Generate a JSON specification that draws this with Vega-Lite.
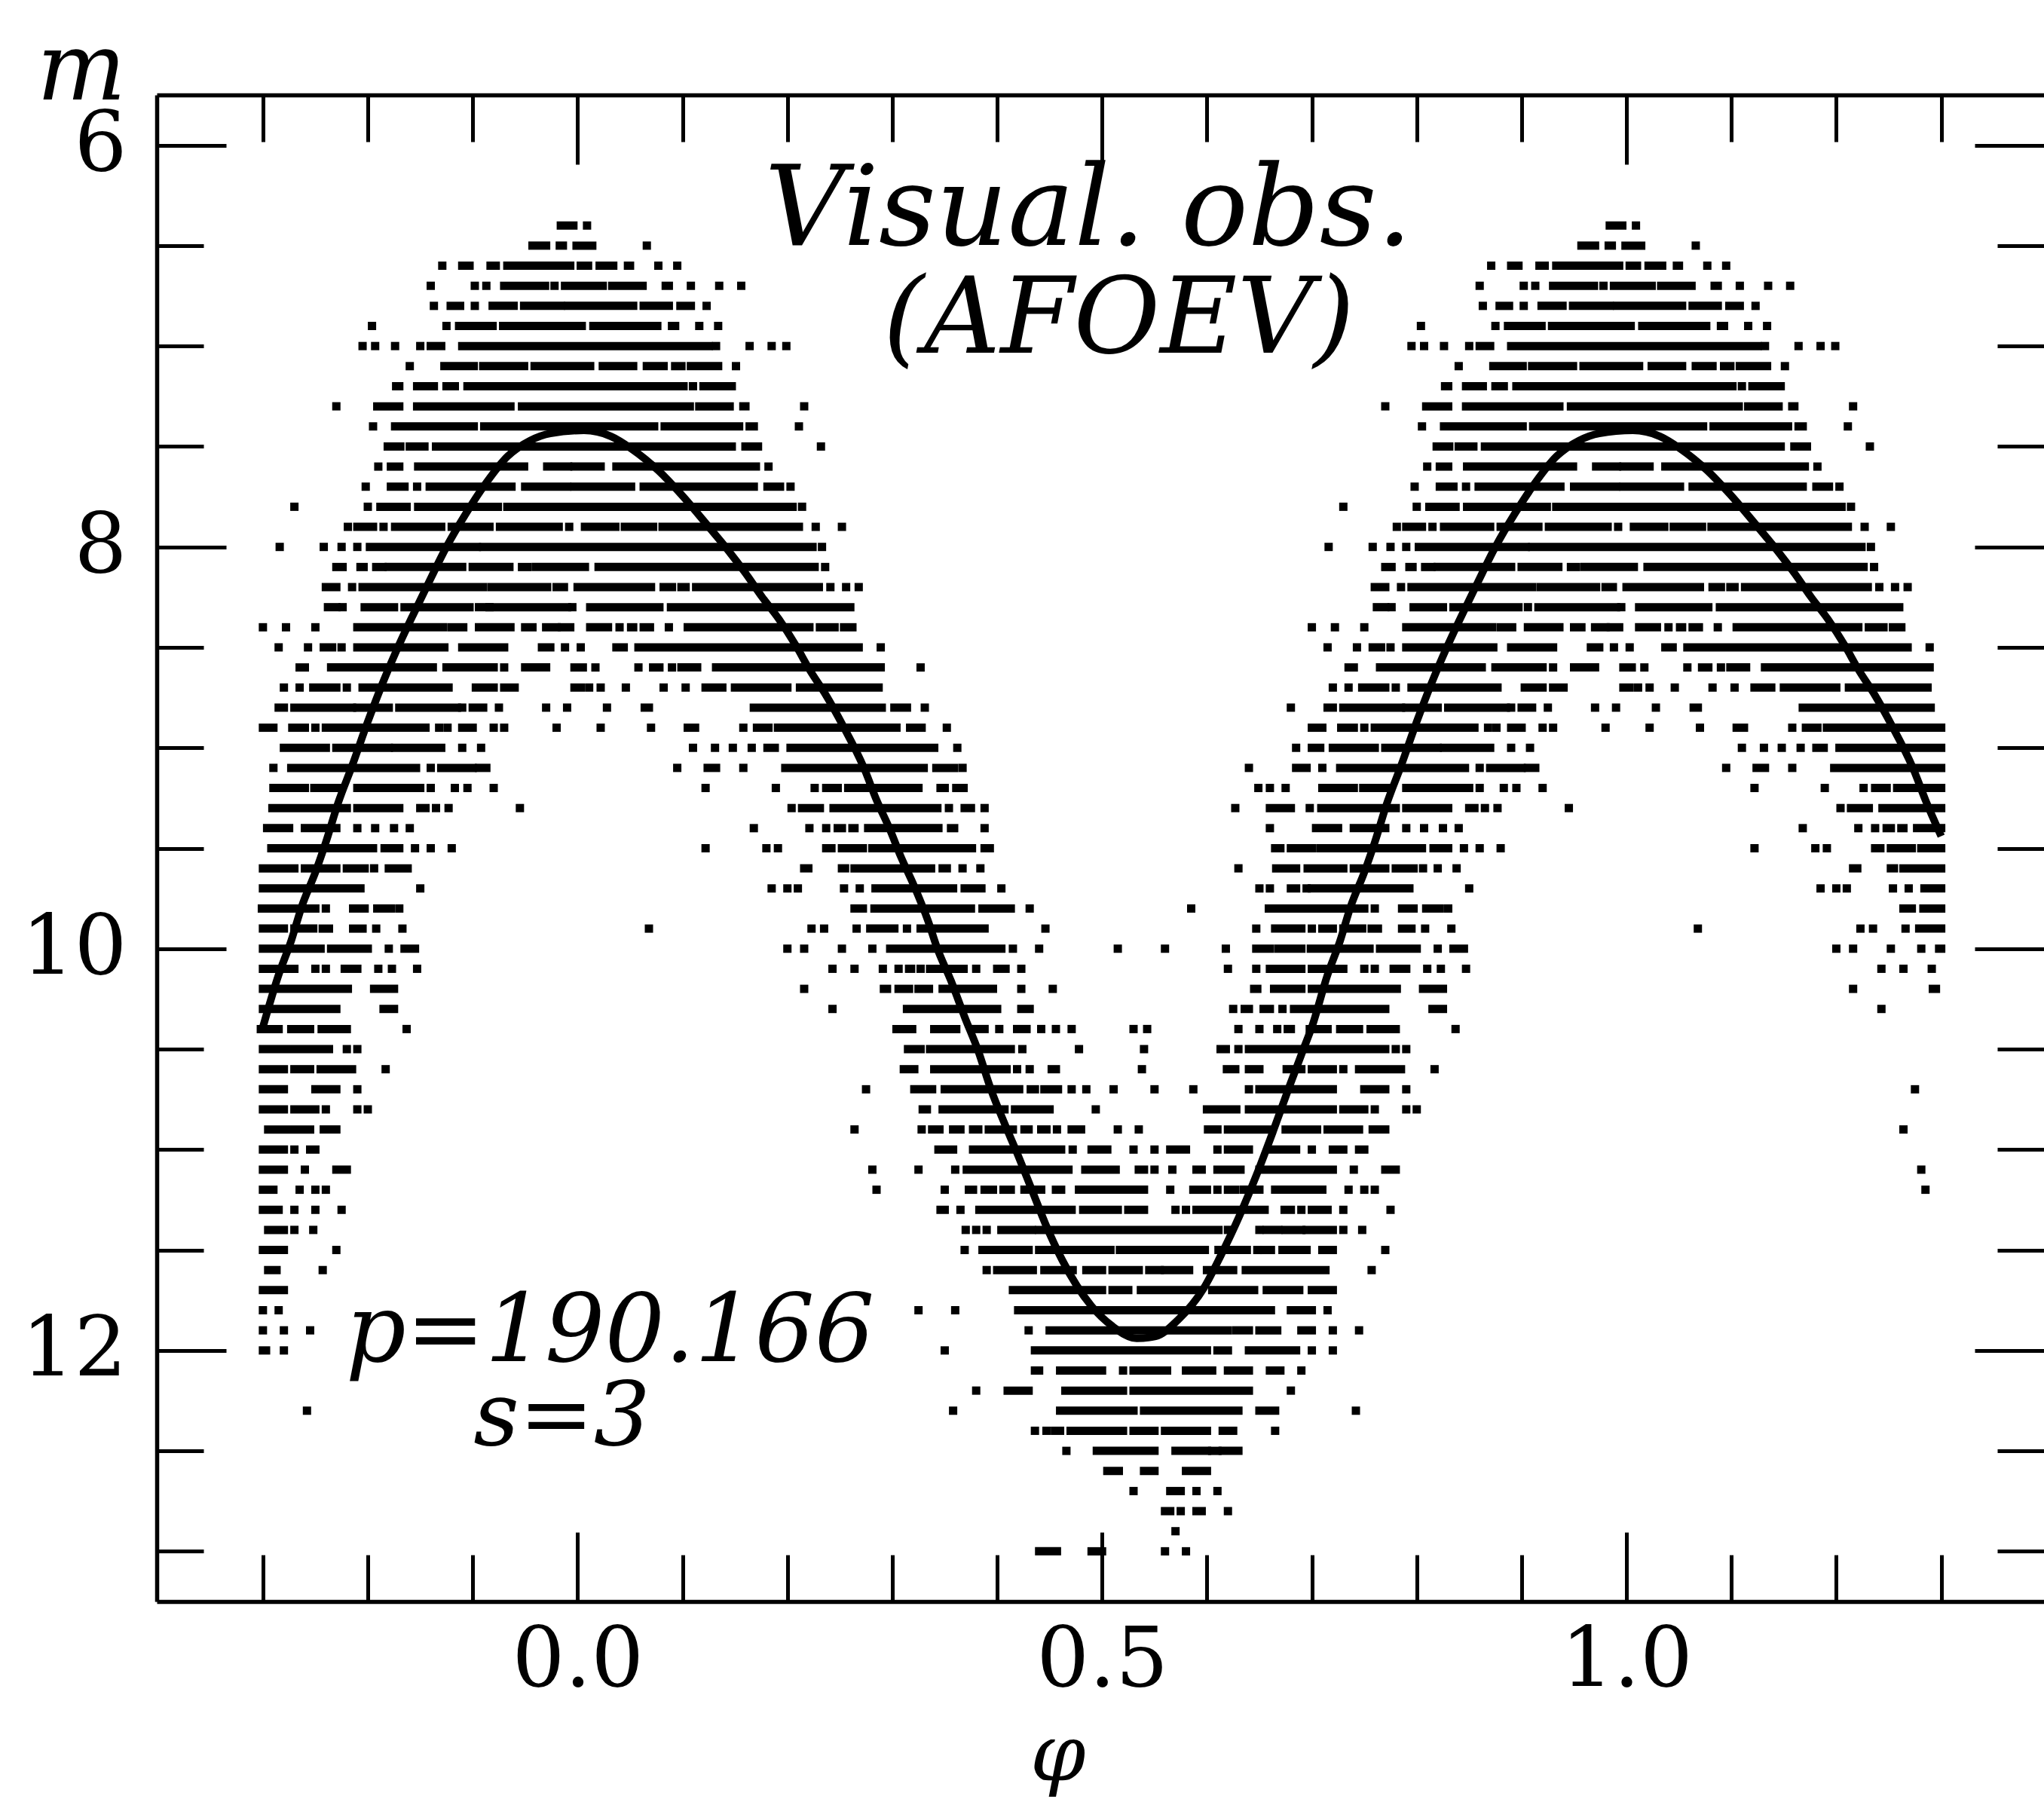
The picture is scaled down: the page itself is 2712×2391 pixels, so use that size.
{"$schema":"https://vega.github.io/schema/vega-lite/v6.json","width":2504,"height":1999,"autosize":{"type":"none"},"padding":{"left":208,"top":126,"right":0,"bottom":266},"background":"white","config":{"view":{"stroke":null},"axis":{"grid":false,"title":null,"domainColor":"black","tickColor":"black","domainWidth":5.5,"tickWidth":5,"labelColor":"black","labelFont":"DejaVu Serif","labelFontSize":110}},
"layer":[
{"data":{"values":[
{"m":6.4,"a":-0.016,"b":-0.004},{"m":6.4,"a":0.009,"b":0.009},{"m":6.4,"a":0.984,"b":0.996},{"m":6.4,"a":1.009,"b":1.009},
{"m":6.5,"a":-0.043,"b":-0.03},{"m":6.5,"a":-0.017,"b":-0.014},{"m":6.5,"a":-0.001,"b":0.014},{"m":6.5,"a":0.066,"b":0.066},{"m":6.5,"a":0.957,"b":0.97},{"m":6.5,"a":0.983,"b":0.986},{"m":6.5,"a":0.999,"b":1.014},{"m":6.5,"a":1.066,"b":1.066},
{"m":6.6,"a":-0.129,"b":-0.129},{"m":6.6,"a":-0.11,"b":-0.103},{"m":6.6,"a":-0.083,"b":-0.078},{"m":6.6,"a":-0.067,"b":-0.007},{"m":6.6,"a":0.003,"b":0.01},{"m":6.6,"a":0.021,"b":0.034},{"m":6.6,"a":0.048,"b":0.05},{"m":6.6,"a":0.077,"b":0.077},{"m":6.6,"a":0.095,"b":0.095},{"m":6.6,"a":0.871,"b":0.871},{"m":6.6,"a":0.89,"b":0.897},{"m":6.6,"a":0.917,"b":0.922},{"m":6.6,"a":0.933,"b":0.993},{"m":6.6,"a":1.003,"b":1.01},{"m":6.6,"a":1.021,"b":1.034},{"m":6.6,"a":1.048,"b":1.05},{"m":6.6,"a":1.077,"b":1.077},{"m":6.6,"a":1.095,"b":1.095},
{"m":6.7,"a":-0.14,"b":-0.14},{"m":6.7,"a":-0.098,"b":-0.098},{"m":6.7,"a":-0.087,"b":-0.087},{"m":6.7,"a":-0.07,"b":-0.031},{"m":6.7,"a":-0.022,"b":-0.022},{"m":6.7,"a":-0.012,"b":0.024},{"m":6.7,"a":0.033,"b":0.062},{"m":6.7,"a":0.084,"b":0.087},{"m":6.7,"a":0.108,"b":0.108},{"m":6.7,"a":0.135,"b":0.135},{"m":6.7,"a":0.156,"b":0.156},{"m":6.7,"a":0.86,"b":0.86},{"m":6.7,"a":0.902,"b":0.902},{"m":6.7,"a":0.913,"b":0.913},{"m":6.7,"a":0.93,"b":0.969},{"m":6.7,"a":0.978,"b":0.978},{"m":6.7,"a":0.988,"b":1.024},{"m":6.7,"a":1.033,"b":1.062},{"m":6.7,"a":1.084,"b":1.087},{"m":6.7,"a":1.108,"b":1.108},{"m":6.7,"a":1.135,"b":1.135},{"m":6.7,"a":1.156,"b":1.156},
{"m":6.8,"a":-0.137,"b":-0.137},{"m":6.8,"a":-0.121,"b":-0.112},{"m":6.8,"a":-0.098,"b":-0.098},{"m":6.8,"a":-0.081,"b":-0.061},{"m":6.8,"a":-0.051,"b":-0.016},{"m":6.8,"a":-0.009,"b":0.053},{"m":6.8,"a":0.063,"b":0.087},{"m":6.8,"a":0.098,"b":0.108},{"m":6.8,"a":0.123,"b":0.123},{"m":6.8,"a":0.863,"b":0.863},{"m":6.8,"a":0.879,"b":0.888},{"m":6.8,"a":0.902,"b":0.902},{"m":6.8,"a":0.919,"b":0.939},{"m":6.8,"a":0.949,"b":0.984},{"m":6.8,"a":0.991,"b":1.053},{"m":6.8,"a":1.063,"b":1.087},{"m":6.8,"a":1.098,"b":1.108},{"m":6.8,"a":1.123,"b":1.123},
{"m":6.9,"a":-0.196,"b":-0.196},{"m":6.9,"a":-0.125,"b":-0.125},{"m":6.9,"a":-0.113,"b":-0.081},{"m":6.9,"a":-0.071,"b":0.004},{"m":6.9,"a":0.015,"b":0.076},{"m":6.9,"a":0.09,"b":0.093},{"m":6.9,"a":0.116,"b":0.116},{"m":6.9,"a":0.134,"b":0.134},{"m":6.9,"a":0.804,"b":0.804},{"m":6.9,"a":0.875,"b":0.875},{"m":6.9,"a":0.887,"b":0.919},{"m":6.9,"a":0.929,"b":1.004},{"m":6.9,"a":1.015,"b":1.076},{"m":6.9,"a":1.09,"b":1.093},{"m":6.9,"a":1.116,"b":1.116},{"m":6.9,"a":1.134,"b":1.134},
{"m":7.0,"a":-0.205,"b":-0.205},{"m":7.0,"a":-0.193,"b":-0.193},{"m":7.0,"a":-0.174,"b":-0.174},{"m":7.0,"a":-0.15,"b":-0.15},{"m":7.0,"a":-0.14,"b":-0.13},{"m":7.0,"a":-0.11,"b":0.125},{"m":7.0,"a":0.132,"b":0.132},{"m":7.0,"a":0.164,"b":0.164},{"m":7.0,"a":0.185,"b":0.185},{"m":7.0,"a":0.199,"b":0.199},{"m":7.0,"a":0.795,"b":0.795},{"m":7.0,"a":0.807,"b":0.807},{"m":7.0,"a":0.826,"b":0.826},{"m":7.0,"a":0.85,"b":0.85},{"m":7.0,"a":0.86,"b":0.87},{"m":7.0,"a":0.89,"b":1.125},{"m":7.0,"a":1.132,"b":1.132},{"m":7.0,"a":1.164,"b":1.164},{"m":7.0,"a":1.185,"b":1.185},{"m":7.0,"a":1.199,"b":1.199},
{"m":7.1,"a":-0.16,"b":-0.16},{"m":7.1,"a":-0.127,"b":-0.099},{"m":7.1,"a":-0.09,"b":-0.051},{"m":7.1,"a":-0.041,"b":0.012},{"m":7.1,"a":0.024,"b":0.053},{"m":7.1,"a":0.066,"b":0.082},{"m":7.1,"a":0.093,"b":0.099},{"m":7.1,"a":0.108,"b":0.134},{"m":7.1,"a":0.151,"b":0.151},{"m":7.1,"a":0.84,"b":0.84},{"m":7.1,"a":0.873,"b":0.901},{"m":7.1,"a":0.91,"b":0.949},{"m":7.1,"a":0.959,"b":1.012},{"m":7.1,"a":1.024,"b":1.053},{"m":7.1,"a":1.066,"b":1.082},{"m":7.1,"a":1.093,"b":1.099},{"m":7.1,"a":1.108,"b":1.134},{"m":7.1,"a":1.151,"b":1.151},
{"m":7.2,"a":-0.173,"b":-0.17},{"m":7.2,"a":-0.153,"b":-0.137},{"m":7.2,"a":-0.125,"b":-0.117},{"m":7.2,"a":-0.105,"b":0.101},{"m":7.2,"a":0.11,"b":0.11},{"m":7.2,"a":0.12,"b":0.147},{"m":7.2,"a":0.827,"b":0.83},{"m":7.2,"a":0.847,"b":0.863},{"m":7.2,"a":0.875,"b":0.883},{"m":7.2,"a":0.895,"b":1.101},{"m":7.2,"a":1.11,"b":1.11},{"m":7.2,"a":1.12,"b":1.147},
{"m":7.3,"a":-0.23,"b":-0.23},{"m":7.3,"a":-0.191,"b":-0.17},{"m":7.3,"a":-0.153,"b":-0.064},{"m":7.3,"a":-0.053,"b":0.107},{"m":7.3,"a":0.116,"b":0.145},{"m":7.3,"a":0.158,"b":0.16},{"m":7.3,"a":0.216,"b":0.216},{"m":7.3,"a":0.77,"b":0.77},{"m":7.3,"a":0.809,"b":0.83},{"m":7.3,"a":0.847,"b":0.936},{"m":7.3,"a":0.947,"b":1.107},{"m":7.3,"a":1.116,"b":1.145},{"m":7.3,"a":1.158,"b":1.16},{"m":7.3,"a":1.216,"b":1.216},
{"m":7.4,"a":-0.195,"b":-0.195},{"m":7.4,"a":-0.174,"b":-0.099},{"m":7.4,"a":-0.089,"b":0.073},{"m":7.4,"a":0.083,"b":0.154},{"m":7.4,"a":0.164,"b":0.168},{"m":7.4,"a":0.211,"b":0.211},{"m":7.4,"a":0.805,"b":0.805},{"m":7.4,"a":0.826,"b":0.901},{"m":7.4,"a":0.911,"b":1.073},{"m":7.4,"a":1.083,"b":1.154},{"m":7.4,"a":1.164,"b":1.168},{"m":7.4,"a":1.211,"b":1.211},
{"m":7.5,"a":-0.181,"b":-0.169},{"m":7.5,"a":-0.16,"b":-0.146},{"m":7.5,"a":-0.135,"b":0.147},{"m":7.5,"a":0.16,"b":0.172},{"m":7.5,"a":0.232,"b":0.232},{"m":7.5,"a":0.819,"b":0.831},{"m":7.5,"a":0.84,"b":0.854},{"m":7.5,"a":0.865,"b":1.147},{"m":7.5,"a":1.16,"b":1.172},{"m":7.5,"a":1.232,"b":1.232},
{"m":7.6,"a":-0.19,"b":-0.19},{"m":7.6,"a":-0.178,"b":-0.17},{"m":7.6,"a":-0.152,"b":-0.051},{"m":7.6,"a":-0.029,"b":-0.009},{"m":7.6,"a":-0.003,"b":0.022},{"m":7.6,"a":0.037,"b":0.17},{"m":7.6,"a":0.182,"b":0.182},{"m":7.6,"a":0.81,"b":0.81},{"m":7.6,"a":0.822,"b":0.83},{"m":7.6,"a":0.848,"b":0.949},{"m":7.6,"a":0.971,"b":0.991},{"m":7.6,"a":0.997,"b":1.022},{"m":7.6,"a":1.037,"b":1.17},{"m":7.6,"a":1.182,"b":1.182},
{"m":7.7,"a":-0.202,"b":-0.202},{"m":7.7,"a":-0.178,"b":-0.165},{"m":7.7,"a":-0.153,"b":-0.153},{"m":7.7,"a":-0.141,"b":-0.063},{"m":7.7,"a":-0.05,"b":-0.01},{"m":7.7,"a":-0.003,"b":0.051},{"m":7.7,"a":0.063,"b":0.168},{"m":7.7,"a":0.181,"b":0.193},{"m":7.7,"a":0.203,"b":0.203},{"m":7.7,"a":0.798,"b":0.798},{"m":7.7,"a":0.822,"b":0.835},{"m":7.7,"a":0.847,"b":0.847},{"m":7.7,"a":0.859,"b":0.937},{"m":7.7,"a":0.95,"b":0.99},{"m":7.7,"a":0.997,"b":1.051},{"m":7.7,"a":1.063,"b":1.168},{"m":7.7,"a":1.181,"b":1.193},{"m":7.7,"a":1.203,"b":1.203},
{"m":7.8,"a":-0.27,"b":-0.27},{"m":7.8,"a":-0.2,"b":-0.2},{"m":7.8,"a":-0.188,"b":-0.163},{"m":7.8,"a":-0.152,"b":-0.076},{"m":7.8,"a":-0.067,"b":0.205},{"m":7.8,"a":0.214,"b":0.214},{"m":7.8,"a":0.73,"b":0.73},{"m":7.8,"a":0.8,"b":0.8},{"m":7.8,"a":0.812,"b":0.837},{"m":7.8,"a":0.848,"b":0.924},{"m":7.8,"a":0.933,"b":1.205},{"m":7.8,"a":1.214,"b":1.214},
{"m":7.9,"a":-0.219,"b":-0.219},{"m":7.9,"a":-0.21,"b":-0.195},{"m":7.9,"a":-0.185,"b":-0.185},{"m":7.9,"a":-0.174,"b":-0.13},{"m":7.9,"a":-0.12,"b":-0.084},{"m":7.9,"a":-0.074,"b":-0.018},{"m":7.9,"a":-0.008,"b":-0.008},{"m":7.9,"a":0.007,"b":0.036},{"m":7.9,"a":0.045,"b":0.072},{"m":7.9,"a":0.081,"b":0.211},{"m":7.9,"a":0.227,"b":0.227},{"m":7.9,"a":0.252,"b":0.252},{"m":7.9,"a":0.781,"b":0.781},{"m":7.9,"a":0.79,"b":0.805},{"m":7.9,"a":0.815,"b":0.815},{"m":7.9,"a":0.826,"b":0.87},{"m":7.9,"a":0.88,"b":0.916},{"m":7.9,"a":0.926,"b":0.982},{"m":7.9,"a":0.992,"b":0.992},{"m":7.9,"a":1.007,"b":1.036},{"m":7.9,"a":1.045,"b":1.072},{"m":7.9,"a":1.081,"b":1.211},{"m":7.9,"a":1.227,"b":1.227},{"m":7.9,"a":1.252,"b":1.252},
{"m":8.0,"a":-0.284,"b":-0.284},{"m":8.0,"a":-0.242,"b":-0.242},{"m":8.0,"a":-0.225,"b":-0.225},{"m":8.0,"a":-0.21,"b":-0.21},{"m":8.0,"a":-0.198,"b":-0.096},{"m":8.0,"a":-0.09,"b":0.224},{"m":8.0,"a":0.233,"b":0.233},{"m":8.0,"a":0.716,"b":0.716},{"m":8.0,"a":0.758,"b":0.758},{"m":8.0,"a":0.775,"b":0.775},{"m":8.0,"a":0.79,"b":0.79},{"m":8.0,"a":0.802,"b":0.904},{"m":8.0,"a":0.91,"b":1.224},{"m":8.0,"a":1.233,"b":1.233},
{"m":8.1,"a":-0.23,"b":-0.224},{"m":8.1,"a":-0.207,"b":-0.204},{"m":8.1,"a":-0.192,"b":-0.186},{"m":8.1,"a":-0.18,"b":-0.11},{"m":8.1,"a":-0.1,"b":-0.065},{"m":8.1,"a":-0.053,"b":-0.048},{"m":8.1,"a":-0.04,"b":0.007},{"m":8.1,"a":0.02,"b":0.226},{"m":8.1,"a":0.236,"b":0.236},{"m":8.1,"a":0.77,"b":0.776},{"m":8.1,"a":0.793,"b":0.796},{"m":8.1,"a":0.808,"b":0.814},{"m":8.1,"a":0.82,"b":0.89},{"m":8.1,"a":0.9,"b":0.935},{"m":8.1,"a":0.947,"b":0.952},{"m":8.1,"a":0.96,"b":1.007},{"m":8.1,"a":1.02,"b":1.226},{"m":8.1,"a":1.236,"b":1.236},
{"m":8.2,"a":-0.24,"b":-0.23},{"m":8.2,"a":-0.215,"b":-0.215},{"m":8.2,"a":-0.205,"b":-0.09},{"m":8.2,"a":-0.082,"b":-0.029},{"m":8.2,"a":-0.02,"b":-0.013},{"m":8.2,"a":0,"b":0.07},{"m":8.2,"a":0.082,"b":0.09},{"m":8.2,"a":0.099,"b":0.103},{"m":8.2,"a":0.113,"b":0.23},{"m":8.2,"a":0.241,"b":0.241},{"m":8.2,"a":0.256,"b":0.256},{"m":8.2,"a":0.268,"b":0.268},{"m":8.2,"a":0.76,"b":0.77},{"m":8.2,"a":0.785,"b":0.785},{"m":8.2,"a":0.795,"b":0.91},{"m":8.2,"a":0.918,"b":0.971},{"m":8.2,"a":0.98,"b":0.987},{"m":8.2,"a":1,"b":1.07},{"m":8.2,"a":1.082,"b":1.09},{"m":8.2,"a":1.099,"b":1.103},{"m":8.2,"a":1.113,"b":1.23},{"m":8.2,"a":1.241,"b":1.241},{"m":8.2,"a":1.256,"b":1.256},{"m":8.2,"a":1.268,"b":1.268},
{"m":8.3,"a":-0.238,"b":-0.23},{"m":8.3,"a":-0.224,"b":-0.224},{"m":8.3,"a":-0.203,"b":-0.175},{"m":8.3,"a":-0.165,"b":-0.103},{"m":8.3,"a":-0.094,"b":-0.084},{"m":8.3,"a":-0.084,"b":-0.01},{"m":8.3,"a":-0.005,"b":-0.005},{"m":8.3,"a":0.012,"b":0.078},{"m":8.3,"a":0.089,"b":0.26},{"m":8.3,"a":0.762,"b":0.77},{"m":8.3,"a":0.776,"b":0.776},{"m":8.3,"a":0.797,"b":0.825},{"m":8.3,"a":0.835,"b":0.897},{"m":8.3,"a":0.906,"b":0.906},{"m":8.3,"a":0.916,"b":0.99},{"m":8.3,"a":0.995,"b":0.995},{"m":8.3,"a":1.012,"b":1.078},{"m":8.3,"a":1.089,"b":1.26},
{"m":8.4,"a":-0.3,"b":-0.3},{"m":8.4,"a":-0.278,"b":-0.278},{"m":8.4,"a":-0.25,"b":-0.25},{"m":8.4,"a":-0.21,"b":-0.128},{"m":8.4,"a":-0.12,"b":-0.109},{"m":8.4,"a":-0.094,"b":-0.064},{"m":8.4,"a":-0.05,"b":-0.043},{"m":8.4,"a":-0.03,"b":-0.02},{"m":8.4,"a":-0.015,"b":-0.007},{"m":8.4,"a":0.012,"b":0.029},{"m":8.4,"a":0.04,"b":0.04},{"m":8.4,"a":0.051,"b":0.053},{"m":8.4,"a":0.063,"b":0.069},{"m":8.4,"a":0.087,"b":0.087},{"m":8.4,"a":0.105,"b":0.221},{"m":8.4,"a":0.231,"b":0.245},{"m":8.4,"a":0.254,"b":0.262},{"m":8.4,"a":0.7,"b":0.7},{"m":8.4,"a":0.722,"b":0.722},{"m":8.4,"a":0.75,"b":0.75},{"m":8.4,"a":0.79,"b":0.872},{"m":8.4,"a":0.88,"b":0.891},{"m":8.4,"a":0.906,"b":0.936},{"m":8.4,"a":0.95,"b":0.957},{"m":8.4,"a":0.97,"b":0.98},{"m":8.4,"a":0.985,"b":0.993},{"m":8.4,"a":1.012,"b":1.029},{"m":8.4,"a":1.04,"b":1.04},{"m":8.4,"a":1.051,"b":1.053},{"m":8.4,"a":1.063,"b":1.069},{"m":8.4,"a":1.087,"b":1.087},{"m":8.4,"a":1.105,"b":1.221},{"m":8.4,"a":1.231,"b":1.245},{"m":8.4,"a":1.254,"b":1.262},
{"m":8.5,"a":-0.285,"b":-0.285},{"m":8.5,"a":-0.257,"b":-0.257},{"m":8.5,"a":-0.242,"b":-0.234},{"m":8.5,"a":-0.225,"b":-0.225},{"m":8.5,"a":-0.21,"b":-0.127},{"m":8.5,"a":-0.11,"b":-0.07},{"m":8.5,"a":-0.034,"b":-0.026},{"m":8.5,"a":-0.012,"b":-0.012},{"m":8.5,"a":0.003,"b":0.003},{"m":8.5,"a":0.037,"b":0.044},{"m":8.5,"a":0.058,"b":0.268},{"m":8.5,"a":0.289,"b":0.289},{"m":8.5,"a":0.715,"b":0.715},{"m":8.5,"a":0.743,"b":0.743},{"m":8.5,"a":0.758,"b":0.766},{"m":8.5,"a":0.775,"b":0.775},{"m":8.5,"a":0.79,"b":0.873},{"m":8.5,"a":0.89,"b":0.93},{"m":8.5,"a":0.966,"b":0.974},{"m":8.5,"a":0.988,"b":0.988},{"m":8.5,"a":1.003,"b":1.003},{"m":8.5,"a":1.037,"b":1.044},{"m":8.5,"a":1.058,"b":1.268},{"m":8.5,"a":1.289,"b":1.289},
{"m":8.6,"a":-0.265,"b":-0.26},{"m":8.6,"a":-0.235,"b":-0.138},{"m":8.6,"a":-0.125,"b":-0.08},{"m":8.6,"a":-0.07,"b":-0.07},{"m":8.6,"a":-0.05,"b":-0.03},{"m":8.6,"a":-0.003,"b":0.005},{"m":8.6,"a":0.017,"b":0.017},{"m":8.6,"a":0.058,"b":0.058},{"m":8.6,"a":0.072,"b":0.078},{"m":8.6,"a":0.09,"b":0.09},{"m":8.6,"a":0.099,"b":0.114},{"m":8.6,"a":0.132,"b":0.289},{"m":8.6,"a":0.327,"b":0.327},{"m":8.6,"a":0.735,"b":0.74},{"m":8.6,"a":0.765,"b":0.862},{"m":8.6,"a":0.875,"b":0.92},{"m":8.6,"a":0.93,"b":0.93},{"m":8.6,"a":0.95,"b":0.97},{"m":8.6,"a":0.997,"b":1.005},{"m":8.6,"a":1.017,"b":1.017},{"m":8.6,"a":1.058,"b":1.058},{"m":8.6,"a":1.072,"b":1.078},{"m":8.6,"a":1.09,"b":1.09},{"m":8.6,"a":1.099,"b":1.114},{"m":8.6,"a":1.132,"b":1.289},
{"m":8.7,"a":-0.28,"b":-0.28},{"m":8.7,"a":-0.265,"b":-0.265},{"m":8.7,"a":-0.252,"b":-0.23},{"m":8.7,"a":-0.22,"b":-0.22},{"m":8.7,"a":-0.205,"b":-0.123},{"m":8.7,"a":-0.097,"b":-0.08},{"m":8.7,"a":-0.07,"b":-0.06},{"m":8.7,"a":-0.003,"b":0.003},{"m":8.7,"a":0.011,"b":0.011},{"m":8.7,"a":0.022,"b":0.022},{"m":8.7,"a":0.046,"b":0.046},{"m":8.7,"a":0.082,"b":0.082},{"m":8.7,"a":0.103,"b":0.103},{"m":8.7,"a":0.122,"b":0.138},{"m":8.7,"a":0.15,"b":0.2},{"m":8.7,"a":0.212,"b":0.287},{"m":8.7,"a":0.72,"b":0.72},{"m":8.7,"a":0.735,"b":0.735},{"m":8.7,"a":0.748,"b":0.77},{"m":8.7,"a":0.78,"b":0.78},{"m":8.7,"a":0.795,"b":0.877},{"m":8.7,"a":0.903,"b":0.92},{"m":8.7,"a":0.93,"b":0.94},{"m":8.7,"a":0.997,"b":1.003},{"m":8.7,"a":1.011,"b":1.011},{"m":8.7,"a":1.022,"b":1.022},{"m":8.7,"a":1.046,"b":1.046},{"m":8.7,"a":1.082,"b":1.082},{"m":8.7,"a":1.103,"b":1.103},{"m":8.7,"a":1.122,"b":1.138},{"m":8.7,"a":1.15,"b":1.2},{"m":8.7,"a":1.212,"b":1.287},
{"m":8.8,"a":-0.285,"b":-0.28},{"m":8.8,"a":-0.27,"b":-0.215},{"m":8.8,"a":-0.21,"b":-0.18},{"m":8.8,"a":-0.17,"b":-0.115},{"m":8.8,"a":-0.11,"b":-0.11},{"m":8.8,"a":-0.1,"b":-0.09},{"m":8.8,"a":-0.075,"b":-0.075},{"m":8.8,"a":-0.03,"b":-0.03},{"m":8.8,"a":-0.01,"b":-0.01},{"m":8.8,"a":0.028,"b":0.028},{"m":8.8,"a":0.064,"b":0.068},{"m":8.8,"a":0.168,"b":0.29},{"m":8.8,"a":0.302,"b":0.314},{"m":8.8,"a":0.331,"b":0.331},{"m":8.8,"a":0.68,"b":0.68},{"m":8.8,"a":0.715,"b":0.72},{"m":8.8,"a":0.73,"b":0.785},{"m":8.8,"a":0.79,"b":0.82},{"m":8.8,"a":0.83,"b":0.885},{"m":8.8,"a":0.89,"b":0.89},{"m":8.8,"a":0.9,"b":0.91},{"m":8.8,"a":0.925,"b":0.925},{"m":8.8,"a":0.97,"b":0.97},{"m":8.8,"a":0.99,"b":0.99},{"m":8.8,"a":1.028,"b":1.028},{"m":8.8,"a":1.064,"b":1.068},{"m":8.8,"a":1.168,"b":1.29},
{"m":8.9,"a":-0.3,"b":-0.29},{"m":8.9,"a":-0.272,"b":-0.26},{"m":8.9,"a":-0.25,"b":-0.25},{"m":8.9,"a":-0.24,"b":-0.145},{"m":8.9,"a":-0.132,"b":-0.132},{"m":8.9,"a":-0.124,"b":-0.124},{"m":8.9,"a":-0.11,"b":-0.1},{"m":8.9,"a":-0.08,"b":-0.08},{"m":8.9,"a":-0.07,"b":-0.07},{"m":8.9,"a":-0.02,"b":-0.02},{"m":8.9,"a":0.022,"b":0.022},{"m":8.9,"a":0.07,"b":0.07},{"m":8.9,"a":0.105,"b":0.112},{"m":8.9,"a":0.158,"b":0.158},{"m":8.9,"a":0.171,"b":0.182},{"m":8.9,"a":0.191,"b":0.304},{"m":8.9,"a":0.317,"b":0.328},{"m":8.9,"a":0.352,"b":0.352},{"m":8.9,"a":0.7,"b":0.71},{"m":8.9,"a":0.728,"b":0.74},{"m":8.9,"a":0.75,"b":0.75},{"m":8.9,"a":0.76,"b":0.855},{"m":8.9,"a":0.868,"b":0.868},{"m":8.9,"a":0.876,"b":0.876},{"m":8.9,"a":0.89,"b":0.9},{"m":8.9,"a":0.92,"b":0.92},{"m":8.9,"a":0.93,"b":0.93},{"m":8.9,"a":0.98,"b":0.98},{"m":8.9,"a":1.022,"b":1.022},{"m":8.9,"a":1.07,"b":1.07},{"m":8.9,"a":1.105,"b":1.112},{"m":8.9,"a":1.158,"b":1.158},{"m":8.9,"a":1.171,"b":1.182},{"m":8.9,"a":1.191,"b":1.3},
{"m":9.0,"a":-0.28,"b":-0.24},{"m":9.0,"a":-0.23,"b":-0.18},{"m":9.0,"a":-0.174,"b":-0.13},{"m":9.0,"a":-0.11,"b":-0.11},{"m":9.0,"a":-0.092,"b":-0.092},{"m":9.0,"a":0.11,"b":0.11},{"m":9.0,"a":0.131,"b":0.131},{"m":9.0,"a":0.148,"b":0.148},{"m":9.0,"a":0.166,"b":0.166},{"m":9.0,"a":0.181,"b":0.188},{"m":9.0,"a":0.203,"b":0.34},{"m":9.0,"a":0.362,"b":0.362},{"m":9.0,"a":0.685,"b":0.685},{"m":9.0,"a":0.7,"b":0.708},{"m":9.0,"a":0.72,"b":0.76},{"m":9.0,"a":0.77,"b":0.82},{"m":9.0,"a":0.826,"b":0.87},{"m":9.0,"a":0.89,"b":0.89},{"m":9.0,"a":0.908,"b":0.908},{"m":9.0,"a":1.11,"b":1.11},{"m":9.0,"a":1.131,"b":1.131},{"m":9.0,"a":1.148,"b":1.148},{"m":9.0,"a":1.166,"b":1.166},{"m":9.0,"a":1.181,"b":1.188},{"m":9.0,"a":1.203,"b":1.3},
{"m":9.1,"a":-0.29,"b":-0.29},{"m":9.1,"a":-0.273,"b":-0.154},{"m":9.1,"a":-0.14,"b":-0.14},{"m":9.1,"a":-0.13,"b":-0.1},{"m":9.1,"a":-0.094,"b":-0.087},{"m":9.1,"a":0.095,"b":0.095},{"m":9.1,"a":0.124,"b":0.132},{"m":9.1,"a":0.158,"b":0.158},{"m":9.1,"a":0.198,"b":0.33},{"m":9.1,"a":0.342,"b":0.359},{"m":9.1,"a":0.367,"b":0.367},{"m":9.1,"a":0.64,"b":0.64},{"m":9.1,"a":0.685,"b":0.695},{"m":9.1,"a":0.71,"b":0.71},{"m":9.1,"a":0.727,"b":0.846},{"m":9.1,"a":0.86,"b":0.86},{"m":9.1,"a":0.87,"b":0.9},{"m":9.1,"a":0.906,"b":0.913},{"m":9.1,"a":1.095,"b":1.095},{"m":9.1,"a":1.124,"b":1.132},{"m":9.1,"a":1.158,"b":1.158},{"m":9.1,"a":1.198,"b":1.3},
{"m":9.2,"a":-0.29,"b":-0.26},{"m":9.2,"a":-0.251,"b":-0.227},{"m":9.2,"a":-0.21,"b":-0.15},{"m":9.2,"a":-0.14,"b":-0.14},{"m":9.2,"a":-0.117,"b":-0.117},{"m":9.2,"a":-0.105,"b":-0.105},{"m":9.2,"a":-0.08,"b":-0.08},{"m":9.2,"a":0.122,"b":0.122},{"m":9.2,"a":0.189,"b":0.189},{"m":9.2,"a":0.226,"b":0.226},{"m":9.2,"a":0.237,"b":0.248},{"m":9.2,"a":0.258,"b":0.325},{"m":9.2,"a":0.346,"b":0.35},{"m":9.2,"a":0.361,"b":0.368},{"m":9.2,"a":0.649,"b":0.649},{"m":9.2,"a":0.66,"b":0.66},{"m":9.2,"a":0.675,"b":0.675},{"m":9.2,"a":0.71,"b":0.74},{"m":9.2,"a":0.749,"b":0.773},{"m":9.2,"a":0.79,"b":0.85},{"m":9.2,"a":0.86,"b":0.86},{"m":9.2,"a":0.883,"b":0.883},{"m":9.2,"a":0.895,"b":0.895},{"m":9.2,"a":0.92,"b":0.92},{"m":9.2,"a":1.122,"b":1.122},{"m":9.2,"a":1.189,"b":1.189},{"m":9.2,"a":1.226,"b":1.226},{"m":9.2,"a":1.237,"b":1.248},{"m":9.2,"a":1.258,"b":1.3},
{"m":9.3,"a":-0.291,"b":-0.22},{"m":9.3,"a":-0.21,"b":-0.17},{"m":9.3,"a":-0.15,"b":-0.145},{"m":9.3,"a":-0.135,"b":-0.135},{"m":9.3,"a":-0.123,"b":-0.123},{"m":9.3,"a":-0.055,"b":-0.055},{"m":9.3,"a":0.204,"b":0.204},{"m":9.3,"a":0.214,"b":0.231},{"m":9.3,"a":0.244,"b":0.343},{"m":9.3,"a":0.354,"b":0.354},{"m":9.3,"a":0.369,"b":0.375},{"m":9.3,"a":0.388,"b":0.388},{"m":9.3,"a":0.627,"b":0.627},{"m":9.3,"a":0.66,"b":0.68},{"m":9.3,"a":0.698,"b":0.698},{"m":9.3,"a":0.709,"b":0.78},{"m":9.3,"a":0.79,"b":0.83},{"m":9.3,"a":0.85,"b":0.855},{"m":9.3,"a":0.865,"b":0.865},{"m":9.3,"a":0.877,"b":0.877},{"m":9.3,"a":0.945,"b":0.945},{"m":9.3,"a":1.204,"b":1.204},{"m":9.3,"a":1.214,"b":1.231},{"m":9.3,"a":1.244,"b":1.3},
{"m":9.4,"a":-0.296,"b":-0.275},{"m":9.4,"a":-0.26,"b":-0.23},{"m":9.4,"a":-0.21,"b":-0.21},{"m":9.4,"a":-0.193,"b":-0.193},{"m":9.4,"a":-0.175,"b":-0.175},{"m":9.4,"a":-0.16,"b":-0.16},{"m":9.4,"a":0.168,"b":0.168},{"m":9.4,"a":0.221,"b":0.221},{"m":9.4,"a":0.237,"b":0.237},{"m":9.4,"a":0.248,"b":0.252},{"m":9.4,"a":0.262,"b":0.264},{"m":9.4,"a":0.277,"b":0.344},{"m":9.4,"a":0.356,"b":0.359},{"m":9.4,"a":0.388,"b":0.388},{"m":9.4,"a":0.66,"b":0.66},{"m":9.4,"a":0.704,"b":0.725},{"m":9.4,"a":0.74,"b":0.77},{"m":9.4,"a":0.79,"b":0.79},{"m":9.4,"a":0.807,"b":0.807},{"m":9.4,"a":0.825,"b":0.825},{"m":9.4,"a":0.84,"b":0.84},{"m":9.4,"a":1.168,"b":1.168},{"m":9.4,"a":1.221,"b":1.221},{"m":9.4,"a":1.237,"b":1.237},{"m":9.4,"a":1.248,"b":1.252},{"m":9.4,"a":1.262,"b":1.264},{"m":9.4,"a":1.277,"b":1.3},
{"m":9.5,"a":-0.292,"b":-0.195},{"m":9.5,"a":-0.184,"b":-0.17},{"m":9.5,"a":-0.155,"b":-0.155},{"m":9.5,"a":-0.14,"b":-0.14},{"m":9.5,"a":-0.12,"b":-0.12},{"m":9.5,"a":0.122,"b":0.122},{"m":9.5,"a":0.18,"b":0.18},{"m":9.5,"a":0.191,"b":0.191},{"m":9.5,"a":0.237,"b":0.242},{"m":9.5,"a":0.252,"b":0.272},{"m":9.5,"a":0.281,"b":0.376},{"m":9.5,"a":0.388,"b":0.393},{"m":9.5,"a":0.665,"b":0.67},{"m":9.5,"a":0.68,"b":0.7},{"m":9.5,"a":0.708,"b":0.805},{"m":9.5,"a":0.816,"b":0.83},{"m":9.5,"a":0.845,"b":0.845},{"m":9.5,"a":0.86,"b":0.86},{"m":9.5,"a":0.88,"b":0.88},{"m":9.5,"a":1.122,"b":1.122},{"m":9.5,"a":1.18,"b":1.18},{"m":9.5,"a":1.191,"b":1.191},{"m":9.5,"a":1.237,"b":1.242},{"m":9.5,"a":1.252,"b":1.272},{"m":9.5,"a":1.281,"b":1.3},
{"m":9.6,"a":-0.3,"b":-0.27},{"m":9.6,"a":-0.26,"b":-0.23},{"m":9.6,"a":-0.22,"b":-0.203},{"m":9.6,"a":-0.194,"b":-0.194},{"m":9.6,"a":-0.18,"b":-0.162},{"m":9.6,"a":0.216,"b":0.22},{"m":9.6,"a":0.252,"b":0.255},{"m":9.6,"a":0.264,"b":0.337},{"m":9.6,"a":0.348,"b":0.352},{"m":9.6,"a":0.367,"b":0.367},{"m":9.6,"a":0.384,"b":0.384},{"m":9.6,"a":0.63,"b":0.63},{"m":9.6,"a":0.666,"b":0.685},{"m":9.6,"a":0.696,"b":0.73},{"m":9.6,"a":0.74,"b":0.77},{"m":9.6,"a":0.78,"b":0.797},{"m":9.6,"a":0.806,"b":0.806},{"m":9.6,"a":0.82,"b":0.82},{"m":9.6,"a":0.838,"b":0.838},{"m":9.6,"a":1.216,"b":1.22},{"m":9.6,"a":1.252,"b":1.255},{"m":9.6,"a":1.264,"b":1.3},
{"m":9.7,"a":-0.3,"b":-0.207},{"m":9.7,"a":-0.15,"b":-0.15},{"m":9.7,"a":0.185,"b":0.185},{"m":9.7,"a":0.2,"b":0.2},{"m":9.7,"a":0.21,"b":0.21},{"m":9.7,"a":0.254,"b":0.254},{"m":9.7,"a":0.269,"b":0.269},{"m":9.7,"a":0.284,"b":0.358},{"m":9.7,"a":0.369,"b":0.385},{"m":9.7,"a":0.404,"b":0.404},{"m":9.7,"a":0.65,"b":0.65},{"m":9.7,"a":0.66,"b":0.66},{"m":9.7,"a":0.68,"b":0.685},{"m":9.7,"a":0.695,"b":0.695},{"m":9.7,"a":0.7,"b":0.793},{"m":9.7,"a":0.85,"b":0.85},{"m":9.7,"a":1.185,"b":1.185},{"m":9.7,"a":1.2,"b":1.2},{"m":9.7,"a":1.21,"b":1.21},{"m":9.7,"a":1.254,"b":1.254},{"m":9.7,"a":1.269,"b":1.269},{"m":9.7,"a":1.284,"b":1.3},
{"m":9.8,"a":-0.301,"b":-0.25},{"m":9.8,"a":-0.24,"b":-0.24},{"m":9.8,"a":-0.214,"b":-0.203},{"m":9.8,"a":-0.191,"b":-0.178},{"m":9.8,"a":-0.17,"b":-0.17},{"m":9.8,"a":0.264,"b":0.272},{"m":9.8,"a":0.283,"b":0.375},{"m":9.8,"a":0.386,"b":0.413},{"m":9.8,"a":0.431,"b":0.431},{"m":9.8,"a":0.585,"b":0.585},{"m":9.8,"a":0.659,"b":0.692},{"m":9.8,"a":0.699,"b":0.75},{"m":9.8,"a":0.76,"b":0.76},{"m":9.8,"a":0.786,"b":0.797},{"m":9.8,"a":0.809,"b":0.822},{"m":9.8,"a":0.83,"b":0.83},{"m":9.8,"a":1.264,"b":1.272},{"m":9.8,"a":1.283,"b":1.3},
{"m":9.9,"a":-0.3,"b":-0.28},{"m":9.9,"a":-0.27,"b":-0.252},{"m":9.9,"a":-0.243,"b":-0.237},{"m":9.9,"a":-0.214,"b":-0.205},{"m":9.9,"a":-0.192,"b":-0.192},{"m":9.9,"a":-0.167,"b":-0.167},{"m":9.9,"a":0.068,"b":0.068},{"m":9.9,"a":0.223,"b":0.223},{"m":9.9,"a":0.235,"b":0.235},{"m":9.9,"a":0.266,"b":0.266},{"m":9.9,"a":0.279,"b":0.302},{"m":9.9,"a":0.314,"b":0.314},{"m":9.9,"a":0.327,"b":0.388},{"m":9.9,"a":0.446,"b":0.446},{"m":9.9,"a":0.647,"b":0.647},{"m":9.9,"a":0.665,"b":0.69},{"m":9.9,"a":0.7,"b":0.7},{"m":9.9,"a":0.71,"b":0.72},{"m":9.9,"a":0.73,"b":0.748},{"m":9.9,"a":0.757,"b":0.763},{"m":9.9,"a":0.786,"b":0.795},{"m":9.9,"a":0.808,"b":0.808},{"m":9.9,"a":0.833,"b":0.833},{"m":9.9,"a":1.068,"b":1.068},{"m":9.9,"a":1.223,"b":1.223},{"m":9.9,"a":1.235,"b":1.235},{"m":9.9,"a":1.266,"b":1.266},{"m":9.9,"a":1.279,"b":1.3},
{"m":10.0,"a":-0.3,"b":-0.245},{"m":10.0,"a":-0.235,"b":-0.2},{"m":10.0,"a":-0.18,"b":-0.18},{"m":10.0,"a":-0.165,"b":-0.155},{"m":10.0,"a":0.2,"b":0.2},{"m":10.0,"a":0.216,"b":0.216},{"m":10.0,"a":0.252,"b":0.252},{"m":10.0,"a":0.281,"b":0.281},{"m":10.0,"a":0.298,"b":0.404},{"m":10.0,"a":0.415,"b":0.415},{"m":10.0,"a":0.44,"b":0.44},{"m":10.0,"a":0.515,"b":0.515},{"m":10.0,"a":0.56,"b":0.56},{"m":10.0,"a":0.618,"b":0.618},{"m":10.0,"a":0.647,"b":0.66},{"m":10.0,"a":0.668,"b":0.69},{"m":10.0,"a":0.699,"b":0.755},{"m":10.0,"a":0.765,"b":0.8},{"m":10.0,"a":0.82,"b":0.82},{"m":10.0,"a":0.835,"b":0.845},{"m":10.0,"a":1.2,"b":1.2},{"m":10.0,"a":1.216,"b":1.216},{"m":10.0,"a":1.252,"b":1.252},{"m":10.0,"a":1.281,"b":1.281},{"m":10.0,"a":1.298,"b":1.3},
{"m":10.1,"a":-0.3,"b":-0.27},{"m":10.1,"a":-0.25,"b":-0.25},{"m":10.1,"a":-0.24,"b":-0.24},{"m":10.1,"a":-0.222,"b":-0.21},{"m":10.1,"a":-0.19,"b":-0.19},{"m":10.1,"a":-0.177,"b":-0.177},{"m":10.1,"a":-0.153,"b":-0.153},{"m":10.1,"a":0.243,"b":0.243},{"m":10.1,"a":0.264,"b":0.264},{"m":10.1,"a":0.291,"b":0.291},{"m":10.1,"a":0.306,"b":0.306},{"m":10.1,"a":0.316,"b":0.318},{"m":10.1,"a":0.327,"b":0.327},{"m":10.1,"a":0.336,"b":0.368},{"m":10.1,"a":0.38,"b":0.38},{"m":10.1,"a":0.4,"b":0.408},{"m":10.1,"a":0.423,"b":0.423},{"m":10.1,"a":0.62,"b":0.62},{"m":10.1,"a":0.647,"b":0.647},{"m":10.1,"a":0.66,"b":0.69},{"m":10.1,"a":0.7,"b":0.73},{"m":10.1,"a":0.75,"b":0.75},{"m":10.1,"a":0.76,"b":0.76},{"m":10.1,"a":0.778,"b":0.79},{"m":10.1,"a":0.81,"b":0.81},{"m":10.1,"a":0.823,"b":0.823},{"m":10.1,"a":0.847,"b":0.847},{"m":10.1,"a":1.243,"b":1.243},{"m":10.1,"a":1.264,"b":1.264},{"m":10.1,"a":1.291,"b":1.291},
{"m":10.2,"a":-0.3,"b":-0.219},{"m":10.2,"a":-0.194,"b":-0.175},{"m":10.2,"a":0.216,"b":0.216},{"m":10.2,"a":0.292,"b":0.295},{"m":10.2,"a":0.306,"b":0.316},{"m":10.2,"a":0.325,"b":0.335},{"m":10.2,"a":0.348,"b":0.396},{"m":10.2,"a":0.423,"b":0.423},{"m":10.2,"a":0.453,"b":0.453},{"m":10.2,"a":0.645,"b":0.648},{"m":10.2,"a":0.664,"b":0.69},{"m":10.2,"a":0.7,"b":0.781},{"m":10.2,"a":0.806,"b":0.825},{"m":10.2,"a":1.216,"b":1.216},{"m":10.2,"a":1.292,"b":1.295},
{"m":10.3,"a":-0.3,"b":-0.23},{"m":10.3,"a":-0.185,"b":-0.175},{"m":10.3,"a":0.243,"b":0.243},{"m":10.3,"a":0.314,"b":0.4},{"m":10.3,"a":0.423,"b":0.431},{"m":10.3,"a":0.625,"b":0.625},{"m":10.3,"a":0.636,"b":0.64},{"m":10.3,"a":0.654,"b":0.66},{"m":10.3,"a":0.672,"b":0.672},{"m":10.3,"a":0.683,"b":0.77},{"m":10.3,"a":0.815,"b":0.825},{"m":10.3,"a":1.243,"b":1.243},
{"m":10.4,"a":-0.302,"b":-0.285},{"m":10.4,"a":-0.273,"b":-0.255},{"m":10.4,"a":-0.244,"b":-0.22},{"m":10.4,"a":-0.163,"b":-0.163},{"m":10.4,"a":0.304,"b":0.319},{"m":10.4,"a":0.34,"b":0.361},{"m":10.4,"a":0.377,"b":0.388},{"m":10.4,"a":0.402,"b":0.402},{"m":10.4,"a":0.419,"b":0.428},{"m":10.4,"a":0.442,"b":0.442},{"m":10.4,"a":0.456,"b":0.456},{"m":10.4,"a":0.471,"b":0.471},{"m":10.4,"a":0.53,"b":0.53},{"m":10.4,"a":0.543,"b":0.543},{"m":10.4,"a":0.63,"b":0.63},{"m":10.4,"a":0.65,"b":0.65},{"m":10.4,"a":0.667,"b":0.667},{"m":10.4,"a":0.677,"b":0.68},{"m":10.4,"a":0.698,"b":0.715},{"m":10.4,"a":0.727,"b":0.745},{"m":10.4,"a":0.756,"b":0.78},{"m":10.4,"a":0.837,"b":0.837},
{"m":10.5,"a":-0.3,"b":-0.237},{"m":10.5,"a":-0.22,"b":-0.22},{"m":10.5,"a":-0.21,"b":-0.21},{"m":10.5,"a":0.315,"b":0.327},{"m":10.5,"a":0.336,"b":0.413},{"m":10.5,"a":0.424,"b":0.424},{"m":10.5,"a":0.478,"b":0.478},{"m":10.5,"a":0.54,"b":0.54},{"m":10.5,"a":0.613,"b":0.618},{"m":10.5,"a":0.63,"b":0.63},{"m":10.5,"a":0.64,"b":0.77},{"m":10.5,"a":0.78,"b":0.78},{"m":10.5,"a":0.79,"b":0.79},
{"m":10.6,"a":-0.3,"b":-0.28},{"m":10.6,"a":-0.27,"b":-0.255},{"m":10.6,"a":-0.245,"b":-0.215},{"m":10.6,"a":-0.183,"b":-0.183},{"m":10.6,"a":0.311,"b":0.321},{"m":10.6,"a":0.34,"b":0.409},{"m":10.6,"a":0.419,"b":0.419},{"m":10.6,"a":0.431,"b":0.431},{"m":10.6,"a":0.452,"b":0.456},{"m":10.6,"a":0.538,"b":0.538},{"m":10.6,"a":0.619,"b":0.627},{"m":10.6,"a":0.64,"b":0.65},{"m":10.6,"a":0.676,"b":0.69},{"m":10.6,"a":0.7,"b":0.72},{"m":10.6,"a":0.73,"b":0.73},{"m":10.6,"a":0.745,"b":0.785},{"m":10.6,"a":0.817,"b":0.817},
{"m":10.7,"a":-0.3,"b":-0.28},{"m":10.7,"a":-0.25,"b":-0.23},{"m":10.7,"a":-0.21,"b":-0.21},{"m":10.7,"a":0.275,"b":0.275},{"m":10.7,"a":0.321,"b":0.338},{"m":10.7,"a":0.35,"b":0.421},{"m":10.7,"a":0.432,"b":0.436},{"m":10.7,"a":0.445,"b":0.458},{"m":10.7,"a":0.471,"b":0.471},{"m":10.7,"a":0.485,"b":0.485},{"m":10.7,"a":0.511,"b":0.511},{"m":10.7,"a":0.55,"b":0.55},{"m":10.7,"a":0.587,"b":0.587},{"m":10.7,"a":0.64,"b":0.64},{"m":10.7,"a":0.65,"b":0.72},{"m":10.7,"a":0.75,"b":0.77},{"m":10.7,"a":0.79,"b":0.79},{"m":10.7,"a":1.275,"b":1.275},
{"m":10.8,"a":-0.3,"b":-0.28},{"m":10.8,"a":-0.27,"b":-0.25},{"m":10.8,"a":-0.24,"b":-0.24},{"m":10.8,"a":-0.21,"b":-0.21},{"m":10.8,"a":-0.2,"b":-0.2},{"m":10.8,"a":0.329,"b":0.333},{"m":10.8,"a":0.348,"b":0.407},{"m":10.8,"a":0.417,"b":0.45},{"m":10.8,"a":0.494,"b":0.494},{"m":10.8,"a":0.6,"b":0.628},{"m":10.8,"a":0.64,"b":0.72},{"m":10.8,"a":0.73,"b":0.75},{"m":10.8,"a":0.76,"b":0.76},{"m":10.8,"a":0.79,"b":0.79},{"m":10.8,"a":0.8,"b":0.8},
{"m":10.9,"a":-0.295,"b":-0.255},{"m":10.9,"a":-0.242,"b":-0.23},{"m":10.9,"a":0.264,"b":0.264},{"m":10.9,"a":0.328,"b":0.328},{"m":10.9,"a":0.338,"b":0.345},{"m":10.9,"a":0.358,"b":0.365},{"m":10.9,"a":0.377,"b":0.382},{"m":10.9,"a":0.392,"b":0.415},{"m":10.9,"a":0.426,"b":0.43},{"m":10.9,"a":0.442,"b":0.447},{"m":10.9,"a":0.457,"b":0.457},{"m":10.9,"a":0.471,"b":0.48},{"m":10.9,"a":0.515,"b":0.515},{"m":10.9,"a":0.535,"b":0.535},{"m":10.9,"a":0.601,"b":0.61},{"m":10.9,"a":0.62,"b":0.66},{"m":10.9,"a":0.675,"b":0.705},{"m":10.9,"a":0.715,"b":0.745},{"m":10.9,"a":0.758,"b":0.77},{"m":10.9,"a":1.264,"b":1.264},
{"m":11.0,"a":-0.3,"b":-0.28},{"m":11.0,"a":-0.27,"b":-0.27},{"m":11.0,"a":-0.255,"b":-0.25},{"m":11.0,"a":0.344,"b":0.358},{"m":11.0,"a":0.377,"b":0.461},{"m":11.0,"a":0.472,"b":0.472},{"m":11.0,"a":0.49,"b":0.505},{"m":11.0,"a":0.53,"b":0.53},{"m":11.0,"a":0.55,"b":0.55},{"m":11.0,"a":0.565,"b":0.58},{"m":11.0,"a":0.61,"b":0.61},{"m":11.0,"a":0.62,"b":0.64},{"m":11.0,"a":0.66,"b":0.685},{"m":11.0,"a":0.7,"b":0.7},{"m":11.0,"a":0.72,"b":0.73},{"m":11.0,"a":0.745,"b":0.75},
{"m":11.1,"a":-0.3,"b":-0.28},{"m":11.1,"a":-0.26,"b":-0.26},{"m":11.1,"a":-0.23,"b":-0.22},{"m":11.1,"a":0.281,"b":0.281},{"m":11.1,"a":0.325,"b":0.325},{"m":11.1,"a":0.36,"b":0.36},{"m":11.1,"a":0.371,"b":0.468},{"m":11.1,"a":0.484,"b":0.513},{"m":11.1,"a":0.535,"b":0.54},{"m":11.1,"a":0.55,"b":0.55},{"m":11.1,"a":0.567,"b":0.567},{"m":11.1,"a":0.59,"b":0.595},{"m":11.1,"a":0.61,"b":0.632},{"m":11.1,"a":0.65,"b":0.72},{"m":11.1,"a":0.74,"b":0.74},{"m":11.1,"a":0.77,"b":0.78},{"m":11.1,"a":1.281,"b":1.281},
{"m":11.2,"a":-0.3,"b":-0.29},{"m":11.2,"a":-0.265,"b":-0.265},{"m":11.2,"a":-0.25,"b":-0.25},{"m":11.2,"a":-0.24,"b":-0.24},{"m":11.2,"a":0.285,"b":0.285},{"m":11.2,"a":0.35,"b":0.35},{"m":11.2,"a":0.373,"b":0.377},{"m":11.2,"a":0.388,"b":0.396},{"m":11.2,"a":0.406,"b":0.413},{"m":11.2,"a":0.426,"b":0.442},{"m":11.2,"a":0.456,"b":0.461},{"m":11.2,"a":0.478,"b":0.54},{"m":11.2,"a":0.565,"b":0.565},{"m":11.2,"a":0.587,"b":0.6},{"m":11.2,"a":0.61,"b":0.61},{"m":11.2,"a":0.62,"b":0.627},{"m":11.2,"a":0.635,"b":0.65},{"m":11.2,"a":0.665,"b":0.71},{"m":11.2,"a":0.735,"b":0.735},{"m":11.2,"a":0.75,"b":0.75},{"m":11.2,"a":0.76,"b":0.76},{"m":11.2,"a":1.285,"b":1.285},
{"m":11.3,"a":-0.3,"b":-0.285},{"m":11.3,"a":-0.27,"b":-0.27},{"m":11.3,"a":-0.25,"b":-0.25},{"m":11.3,"a":-0.225,"b":-0.225},{"m":11.3,"a":0.346,"b":0.35},{"m":11.3,"a":0.365,"b":0.365},{"m":11.3,"a":0.383,"b":0.471},{"m":11.3,"a":0.482,"b":0.515},{"m":11.3,"a":0.525,"b":0.54},{"m":11.3,"a":0.57,"b":0.57},{"m":11.3,"a":0.58,"b":0.58},{"m":11.3,"a":0.59,"b":0.655},{"m":11.3,"a":0.674,"b":0.68},{"m":11.3,"a":0.69,"b":0.69},{"m":11.3,"a":0.7,"b":0.715},{"m":11.3,"a":0.73,"b":0.73},{"m":11.3,"a":0.775,"b":0.775},
{"m":11.4,"a":-0.295,"b":-0.28},{"m":11.4,"a":-0.27,"b":-0.27},{"m":11.4,"a":-0.252,"b":-0.252},{"m":11.4,"a":0.37,"b":0.37},{"m":11.4,"a":0.38,"b":0.38},{"m":11.4,"a":0.39,"b":0.39},{"m":11.4,"a":0.404,"b":0.433},{"m":11.4,"a":0.44,"b":0.611},{"m":11.4,"a":0.62,"b":0.62},{"m":11.4,"a":0.65,"b":0.65},{"m":11.4,"a":0.657,"b":0.668},{"m":11.4,"a":0.675,"b":0.69},{"m":11.4,"a":0.695,"b":0.72},{"m":11.4,"a":0.73,"b":0.73},{"m":11.4,"a":0.748,"b":0.748},
{"m":11.5,"a":-0.3,"b":-0.28},{"m":11.5,"a":-0.23,"b":-0.23},{"m":11.5,"a":0.369,"b":0.369},{"m":11.5,"a":0.386,"b":0.43},{"m":11.5,"a":0.44,"b":0.508},{"m":11.5,"a":0.517,"b":0.559},{"m":11.5,"a":0.565,"b":0.598},{"m":11.5,"a":0.611,"b":0.638},{"m":11.5,"a":0.648,"b":0.648},{"m":11.5,"a":0.655,"b":0.661},{"m":11.5,"a":0.672,"b":0.695},{"m":11.5,"a":0.71,"b":0.72},{"m":11.5,"a":0.77,"b":0.77},
{"m":11.6,"a":-0.295,"b":-0.287},{"m":11.6,"a":-0.243,"b":-0.243},{"m":11.6,"a":0.39,"b":0.39},{"m":11.6,"a":0.4,"b":0.434},{"m":11.6,"a":0.445,"b":0.472},{"m":11.6,"a":0.485,"b":0.5},{"m":11.6,"a":0.51,"b":0.535},{"m":11.6,"a":0.545,"b":0.555},{"m":11.6,"a":0.56,"b":0.583},{"m":11.6,"a":0.6,"b":0.625},{"m":11.6,"a":0.637,"b":0.713},{"m":11.6,"a":0.757,"b":0.757},
{"m":11.7,"a":-0.3,"b":-0.28},{"m":11.7,"a":0.415,"b":0.5},{"m":11.7,"a":0.51,"b":0.525},{"m":11.7,"a":0.537,"b":0.593},{"m":11.7,"a":0.605,"b":0.645},{"m":11.7,"a":0.657,"b":0.688},{"m":11.7,"a":0.7,"b":0.72},
{"m":11.8,"a":-0.3,"b":-0.3},{"m":11.8,"a":-0.285,"b":-0.285},{"m":11.8,"a":0.325,"b":0.325},{"m":11.8,"a":0.36,"b":0.36},{"m":11.8,"a":0.42,"b":0.661},{"m":11.8,"a":0.68,"b":0.7},{"m":11.8,"a":0.715,"b":0.715},
{"m":11.9,"a":-0.3,"b":-0.3},{"m":11.9,"a":-0.28,"b":-0.28},{"m":11.9,"a":-0.255,"b":-0.255},{"m":11.9,"a":0.43,"b":0.43},{"m":11.9,"a":0.45,"b":0.62},{"m":11.9,"a":0.628,"b":0.64},{"m":11.9,"a":0.65,"b":0.667},{"m":11.9,"a":0.69,"b":0.7},{"m":11.9,"a":0.72,"b":0.72},{"m":11.9,"a":0.745,"b":0.745},
{"m":12.0,"a":-0.3,"b":-0.297},{"m":12.0,"a":-0.28,"b":-0.28},{"m":12.0,"a":0.35,"b":0.35},{"m":12.0,"a":0.436,"b":0.6},{"m":12.0,"a":0.61,"b":0.62},{"m":12.0,"a":0.64,"b":0.685},{"m":12.0,"a":0.7,"b":0.7},{"m":12.0,"a":0.72,"b":0.72},
{"m":12.1,"a":0.436,"b":0.44},{"m":12.1,"a":0.46,"b":0.5},{"m":12.1,"a":0.52,"b":0.52},{"m":12.1,"a":0.53,"b":0.562},{"m":12.1,"a":0.58,"b":0.605},{"m":12.1,"a":0.62,"b":0.64},{"m":12.1,"a":0.66,"b":0.67},{"m":12.1,"a":0.69,"b":0.69},
{"m":12.2,"a":0.38,"b":0.38},{"m":12.2,"a":0.41,"b":0.43},{"m":12.2,"a":0.465,"b":0.52},{"m":12.2,"a":0.53,"b":0.64},{"m":12.2,"a":0.68,"b":0.68},
{"m":12.3,"a":-0.258,"b":-0.258},{"m":12.3,"a":0.358,"b":0.358},{"m":12.3,"a":0.46,"b":0.53},{"m":12.3,"a":0.54,"b":0.63},{"m":12.3,"a":0.65,"b":0.665},{"m":12.3,"a":0.742,"b":0.742},
{"m":12.4,"a":0.436,"b":0.436},{"m":12.4,"a":0.447,"b":0.447},{"m":12.4,"a":0.455,"b":0.46},{"m":12.4,"a":0.47,"b":0.52},{"m":12.4,"a":0.53,"b":0.55},{"m":12.4,"a":0.56,"b":0.6},{"m":12.4,"a":0.615,"b":0.625},{"m":12.4,"a":0.665,"b":0.665},
{"m":12.5,"a":0.466,"b":0.466},{"m":12.5,"a":0.495,"b":0.55},{"m":12.5,"a":0.57,"b":0.6},{"m":12.5,"a":0.605,"b":0.61},{"m":12.5,"a":0.615,"b":0.63},
{"m":12.6,"a":0.505,"b":0.516},{"m":12.6,"a":0.54,"b":0.55},{"m":12.6,"a":0.58,"b":0.6},
{"m":12.7,"a":0.53,"b":0.53},{"m":12.7,"a":0.565,"b":0.575},{"m":12.7,"a":0.59,"b":0.59},{"m":12.7,"a":0.61,"b":0.61},
{"m":12.8,"a":0.56,"b":0.565},{"m":12.8,"a":0.575,"b":0.575},{"m":12.8,"a":0.59,"b":0.595},{"m":12.8,"a":0.62,"b":0.62},
{"m":12.9,"a":0.57,"b":0.57},
{"m":13.0,"a":0.44,"b":0.457},{"m":13.0,"a":0.49,"b":0.5},{"m":13.0,"a":0.56,"b":0.56},{"m":13.0,"a":0.58,"b":0.58}
]},"mark":{"type":"rule","strokeWidth":11,"strokeCap":"square","color":"black"},"encoding":{"x":{"field":"a","type":"quantitative","scale":{"domain":[-0.4012,1.398],"nice":false,"zero":false},"axis":{"orient":"bottom","values":[-0.3,-0.2,-0.1,0,0.1,0.2,0.3,0.4,0.5,0.6,0.7,0.8,0.9,1,1.1,1.2,1.3],"labelExpr":"(datum.value==0||datum.value==0.5||datum.value==1)?format(datum.value,'.1f'):''","tickSize":{"condition":{"test":"datum.value==0||datum.value==0.5||datum.value==1","value":-92},"value":-62},"labelPadding":116,"labelFlush":false}},"x2":{"field":"b"},"y":{"field":"m","type":"quantitative","scale":{"domain":[5.75,13.25],"nice":false,"zero":false,"reverse":true},"axis":{"orient":"left","values":[6,6.5,7,7.5,8,8.5,9,9.5,10,10.5,11,11.5,12,12.5,13],"labelExpr":"(datum.value==6||datum.value==8||datum.value==10||datum.value==12)?format(datum.value,'d'):''","tickSize":{"condition":{"test":"datum.value==6||datum.value==8||datum.value==10||datum.value==12","value":-92},"value":-62},"labelPadding":132,"labelFlush":false}}}},
{"data":{"values":[{"p":-0.3,"m":10.39},{"p":-0.285,"m":10.13},{"p":-0.273,"m":9.96},{"p":-0.263,"m":9.79},{"p":-0.25,"m":9.62},{"p":-0.24,"m":9.47},{"p":-0.228,"m":9.27},{"p":-0.215,"m":9.09},{"p":-0.2,"m":8.87},{"p":-0.186,"m":8.68},{"p":-0.173,"m":8.52},{"p":-0.157,"m":8.34},{"p":-0.144,"m":8.2},{"p":-0.125,"m":8.0},{"p":-0.106,"m":7.83},{"p":-0.087,"m":7.68},{"p":-0.067,"m":7.55},{"p":-0.045,"m":7.47},{"p":-0.026,"m":7.435},{"p":0.006,"m":7.42},{"p":0.032,"m":7.45},{"p":0.051,"m":7.51},{"p":0.077,"m":7.62},{"p":0.099,"m":7.74},{"p":0.125,"m":7.9},{"p":0.144,"m":8.02},{"p":0.16,"m":8.13},{"p":0.176,"m":8.25},{"p":0.192,"m":8.36},{"p":0.208,"m":8.49},{"p":0.221,"m":8.61},{"p":0.237,"m":8.74},{"p":0.253,"m":8.89},{"p":0.273,"m":9.1},{"p":0.285,"m":9.26},{"p":0.298,"m":9.41},{"p":0.308,"m":9.54},{"p":0.321,"m":9.69},{"p":0.334,"m":9.86},{"p":0.343,"m":10.0},{"p":0.356,"m":10.16},{"p":0.369,"m":10.34},{"p":0.382,"m":10.51},{"p":0.394,"m":10.7},{"p":0.407,"m":10.87},{"p":0.42,"m":11.03},{"p":0.433,"m":11.2},{"p":0.446,"m":11.37},{"p":0.462,"m":11.55},{"p":0.49,"m":11.78},{"p":0.51,"m":11.88},{"p":0.533,"m":11.94},{"p":0.551,"m":11.93},{"p":0.572,"m":11.85},{"p":0.597,"m":11.69},{"p":0.613,"m":11.53},{"p":0.631,"m":11.33},{"p":0.647,"m":11.13},{"p":0.663,"m":10.91},{"p":0.679,"m":10.68},{"p":0.692,"m":10.5},{"p":0.7,"m":10.39},{"p":0.715,"m":10.13},{"p":0.727,"m":9.96},{"p":0.737,"m":9.79},{"p":0.75,"m":9.62},{"p":0.76,"m":9.47},{"p":0.772,"m":9.27},{"p":0.785,"m":9.09},{"p":0.8,"m":8.87},{"p":0.814,"m":8.68},{"p":0.827,"m":8.52},{"p":0.843,"m":8.34},{"p":0.856,"m":8.2},{"p":0.875,"m":8.0},{"p":0.894,"m":7.83},{"p":0.913,"m":7.68},{"p":0.933,"m":7.55},{"p":0.955,"m":7.47},{"p":0.974,"m":7.435},{"p":1.006,"m":7.42},{"p":1.032,"m":7.45},{"p":1.051,"m":7.51},{"p":1.077,"m":7.62},{"p":1.099,"m":7.74},{"p":1.125,"m":7.9},{"p":1.144,"m":8.02},{"p":1.16,"m":8.13},{"p":1.176,"m":8.25},{"p":1.192,"m":8.36},{"p":1.208,"m":8.49},{"p":1.221,"m":8.61},{"p":1.237,"m":8.74},{"p":1.253,"m":8.89},{"p":1.273,"m":9.1},{"p":1.285,"m":9.26},{"p":1.3,"m":9.44}]},"mark":{"type":"line","strokeWidth":10,"color":"black","interpolate":"monotone"},"encoding":{"x":{"field":"p","type":"quantitative","sort":null,"axis":{"orient":"top","values":[-0.3,-0.2,-0.1,0,0.1,0.2,0.3,0.4,0.5,0.6,0.7,0.8,0.9,1,1.1,1.2,1.3],"labels":false,"tickSize":{"condition":{"test":"datum.value==0||datum.value==0.5||datum.value==1","value":-92},"value":-62}}},"y":{"field":"m","type":"quantitative","axis":{"orient":"right","domain":false,"values":[6,6.5,7,7.5,8,8.5,9,9.5,10,10.5,11,11.5,12,12.5,13],"labels":false,"tickSize":{"condition":{"test":"datum.value==6||datum.value==8||datum.value==10||datum.value==12","value":-92},"value":-62}}}}},
{"data":{"values":[{"t":"Visual.  obs.","p":0.487,"m":6.33,"s":148},{"t":"(AFOEV)","p":0.516,"m":6.875,"s":140},{"t":"p=190.166","p":0.031,"m":11.91,"s":125},{"t":"s=3","p":-0.015,"m":12.34,"s":118},{"t":"m","p":-0.473,"m":5.63,"s":125},{"t":"φ","p":0.458,"m":14.02,"s":105}]},"mark":{"type":"text","font":"DejaVu Serif","fontStyle":"italic","color":"black","baseline":"middle"},"encoding":{"x":{"field":"p","type":"quantitative","axis":null},"y":{"field":"m","type":"quantitative","axis":null},"text":{"field":"t"},"size":{"field":"s","type":"quantitative","scale":null}}}
],"resolve":{"axis":{"x":"independent","y":"independent"},"scale":{"x":"shared","y":"shared"}}}
